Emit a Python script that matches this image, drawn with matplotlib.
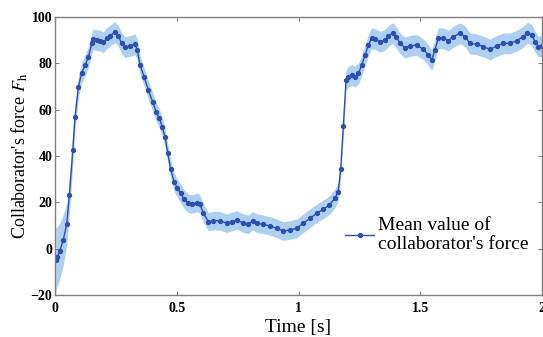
import matplotlib
matplotlib.use('Agg')
import matplotlib.pyplot as plt
import numpy as np

plt.rcParams['font.family'] = 'Liberation Serif'
plt.rcParams['mathtext.fontset'] = 'stix'

# mean collaborator force
time = [0.003, 0.008, 0.02, 0.034, 0.048, 0.059, 0.073, 0.082, 0.096, 0.11,
        0.123, 0.137, 0.151, 0.157, 0.171, 0.185, 0.198, 0.212, 0.226, 0.246,
        0.26, 0.274, 0.287, 0.308, 0.329, 0.338, 0.349, 0.366, 0.383, 0.401,
        0.415, 0.428, 0.44, 0.452, 0.463, 0.475, 0.489, 0.502, 0.516, 0.53,
        0.547, 0.561, 0.582, 0.595, 0.609, 0.63, 0.65, 0.678, 0.705, 0.726,
        0.746, 0.773, 0.794, 0.812, 0.828, 0.855, 0.883, 0.91, 0.938, 0.965,
        0.993, 1.02, 1.047, 1.075, 1.102, 1.127, 1.15, 1.163, 1.173, 1.184,
        1.195, 1.205, 1.218, 1.232, 1.246, 1.26, 1.273, 1.287, 1.3, 1.314,
        1.335, 1.355, 1.369, 1.387, 1.4, 1.417, 1.437, 1.458, 1.485, 1.513,
        1.533, 1.547, 1.56, 1.574, 1.595, 1.615, 1.636, 1.663, 1.684, 1.704,
        1.732, 1.759, 1.786, 1.814, 1.841, 1.869, 1.896, 1.923, 1.94, 1.958,
        1.971, 1.985, 1.999]
force = [-4.9, -3.7, -0.9, 3.8, 10.5, 23.0, 42.6, 56.7, 69.9, 76.0,
         79.1, 82.6, 88.6, 90.5, 90.0, 89.8, 89.0, 90.8, 91.9, 93.5,
         91.8, 88.6, 87.0, 87.5, 88.2, 85.8, 79.3, 74.2, 68.5, 63.4,
         59.1, 56.3, 52.7, 48.1, 41.2, 34.3, 28.9, 26.1, 23.9, 21.3,
         19.6, 19.2, 19.9, 19.3, 15.3, 11.7, 12.1, 12.0, 11.0, 11.7,
         12.4, 11.0, 10.5, 12.1, 11.0, 10.5, 9.8, 8.8, 7.6, 8.1,
         8.8, 11.0, 13.1, 15.3, 17.0, 18.9, 21.8, 24.6, 34.3, 53.0,
         72.8, 74.2, 75.0, 74.2, 75.7, 79.3, 83.6, 87.9, 90.8, 90.4,
         89.3, 90.1, 91.8, 93.0, 91.5, 88.6, 86.8, 87.5, 87.9, 86.0,
         83.6, 81.4, 85.8, 90.8, 90.8, 89.8, 91.5, 93.0, 91.5, 88.6,
         88.2, 87.2, 86.0, 87.5, 88.6, 88.6, 89.8, 91.5, 93.2, 92.2,
         89.3, 87.2, 87.5]
# half width of the shaded band
spread = [14, 13, 12, 11, 9, 8, 6, 5, 4.5, 4.5,
          4.5, 4.5, 4.5, 4.5, 4.5, 4.5, 4.5, 4.5, 4.5, 4.5,
          4.5, 4.5, 4.5, 4.5, 4.5, 4.5, 4, 4, 4, 4,
          4, 4, 4, 4, 4, 4, 4, 4, 4, 4,
          4, 4, 4, 4, 4, 4, 4, 4, 4, 4,
          4, 4, 4, 4, 4, 4, 4, 4, 4, 4,
          4, 4, 4, 4, 4, 4, 4, 4, 4, 4,
          4.5, 4.5, 4.5, 4.5, 4.5, 4.5, 4.5, 4.5, 4.5, 4.5,
          4.5, 4.5, 4.5, 4.5, 4.5, 4.5, 4.5, 4.5, 4.5, 4.5,
          4.5, 4.5, 4.5, 4.5, 4.5, 4.5, 4.5, 4.5, 4.5, 4.5,
          4.5, 4.5, 4.5, 4.5, 4.5, 4.5, 4.5, 4.5, 4.5, 4.5,
          4.5, 4.5, 4.5]

xticks = [0, 0.5, 1, 1.5, 2]
xticklabels = ['0', '0.5', '1', '1.5', '2']
yticks = [-20, 0, 20, 40, 60, 80, 100]

t = np.array(time)
f = np.array(force)
s = np.array(spread)

fig = plt.figure(figsize=(5.43, 3.37), dpi=100)
ax = fig.add_axes([0.1013, 0.1246, 0.897, 0.825])

ax.fill_between(t, f - s, f + s, color='#add0f0', linewidth=0)
ax.plot(t, f, color='#2d4fb0', linewidth=1.0, marker='o', markersize=2.8,
        label="Mean value of\ncollaborator's force")

ax.set_xlim(0, 2)
ax.set_ylim(-20, 100)
ax.set_xticks(xticks)
ax.set_xticklabels(xticklabels)
ax.set_yticks(yticks)
for lab in ax.get_xticklabels() + ax.get_yticklabels():
    lab.set_fontweight('bold')
    lab.set_fontsize(10)

ax.tick_params(direction='in', top=True, right=True, length=3, width=0.8,
               color='#808080')
ax.tick_params(axis='x', pad=5)
ax.tick_params(axis='y', pad=2)
for sp in ax.spines.values():
    sp.set_color('#808080')
    sp.set_linewidth(1.0)

ax.set_xlabel('Time [s]', fontsize=14, labelpad=3)
ax.set_ylabel(r"Collaborator's force $F_{\rm h}$", fontsize=13, labelpad=0)

ax.legend(loc='center left', bbox_to_anchor=(0.56, 0.216), frameon=False,
          fontsize=14, handlelength=1.5, handletextpad=0.2, labelspacing=0.05)

fig.savefig('out.png', dpi=100)
